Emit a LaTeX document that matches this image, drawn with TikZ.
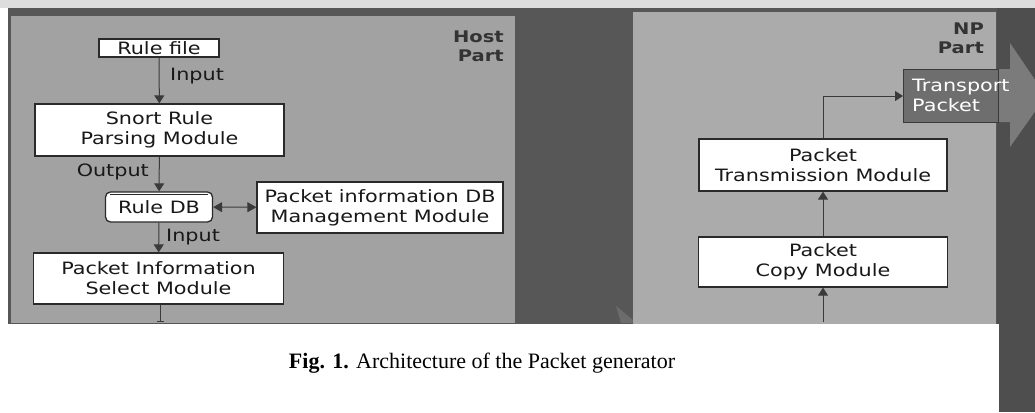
\documentclass[tikz,border=0pt]{standalone}
\usepackage{fontspec}
\setmainfont{Liberation Serif}
\newfontfamily\gul[FakeStretch=1.22]{DejaVu Sans}
\usetikzlibrary{arrows.meta}
\definecolor{topstrip}{HTML}{DDDDDD}
\definecolor{darkbg}{HTML}{575757}
\definecolor{darkright}{HTML}{4E4E4E}
\definecolor{hostpanel}{HTML}{A2A2A2}
\definecolor{nppanel}{HTML}{ABABAB}
\definecolor{boxline}{HTML}{2A2A2A}
\definecolor{conline}{HTML}{3A3A3A}
\definecolor{txt}{HTML}{181818}
\definecolor{trbox}{HTML}{6E6E6E}
\definecolor{bigarrow}{HTML}{7B7B7B}
\definecolor{faintarrow}{HTML}{6C6C6C}
\newcommand\gulf{\gul\fontsize{17}{20}\selectfont}
\newcommand\gulbf{\gul\bfseries\fontsize{16}{19}\selectfont}
\tikzset{
  box/.style={draw=boxline, fill=white, line width=1.3pt, align=center,
    font=\gulf, text=txt, inner sep=0pt},
  conn/.style={draw=conline, line width=1pt, -{Triangle[width=10pt,length=8pt]}},
  dconn/.style={draw=conline, line width=1pt,
    {Triangle[width=10pt,length=9pt]}-{Triangle[width=10pt,length=9pt]}},
  lbl/.style={font=\gulf, text=txt, inner sep=0pt},
  part/.style={font=\gulbf, text=black!80, inner sep=0pt, align=right}
}
\begin{document}
\begin{tikzpicture}[x=1pt,y=-1pt]
\clip (0,0) rectangle (1035,412);
\useasboundingbox (0,0) rectangle (1035,412);
% background layers
\fill[white] (0,0) rectangle (1035,412);
\fill[topstrip] (0,0) rectangle (1035,8);
\fill[darkbg] (8,8) rectangle (1035,325);
\fill[darkright] (997,8) rectangle (1035,412);
\fill[hostpanel] (11,16) rectangle (515,323);
\fill[nppanel] (633,12) rectangle (996,325);
\fill[faintarrow] (616,306) -- (633,320) -- (633,323) -- (621,323) -- cycle;
\fill[white] (0,324) rectangle (999,412);
% big output arrow
\fill[bigarrow] (903,69) -- (1010,69) -- (1010,43) -- (1046,96) -- (1010,147) -- (1010,122) -- (903,122) -- cycle;

% part labels
\node[part, anchor=north east] (host) at (504,31) {Host\\Part};
\node[part, anchor=north east] (np) at (984,23) {NP\\Part};

% host nodes
\node[box, minimum width=120, minimum height=18] (rulefile) at (159,48) {Rule file};
\node[box, minimum width=249, minimum height=52] (snort) at (159.5,130) {Snort Rule\\Parsing Module};
\node[box, rounded corners=5pt, minimum width=107, minimum height=30] (ruledb) at (159,207) {Rule DB};
\draw[boxline, line width=0.9pt] ([xshift=5pt,yshift=-3.5pt]ruledb.north west) -- ([xshift=-5pt,yshift=-3.5pt]ruledb.north east);
\node[box, minimum width=246, minimum height=51] (pidb) at (380,207.5) {Packet information DB\\Management Module};
\node[box, minimum width=250, minimum height=51] (pis) at (158.5,278.5) {Packet Information\\Select Module};
\coordinate (hostout) at (160,322);

% host connectors
\draw[conn] (rulefile) -- (snort);
\node[lbl, anchor=west] (in1) at (170,76) {Input};
\draw[conn] (snort) -- (ruledb);
\node[lbl, anchor=east] (out1) at (149,172) {Output};
\draw[dconn] (ruledb) -- (pidb);
\draw[conn] (ruledb) -- (pis);
\node[lbl, anchor=west] (in2) at (166,237) {Input};
\draw[draw=conline, line width=1pt, -{Bar[width=7pt,line width=1.5pt]}] (pis.south -| hostout) -- (hostout);

% NP nodes
\node[draw=conline, fill=trbox, line width=1pt, minimum width=95, minimum height=53, anchor=north west, inner sep=0pt] (transport) at (903,69) {};
\node[font=\gulf, text=white, align=left, anchor=west, inner sep=0pt] (trtext) at (912,95.5) {Transport\\Packet};
\node[box, minimum width=248, minimum height=52] (ptm) at (823,165) {Packet\\Transmission Module};
\node[box, minimum width=249, minimum height=50] (pcm) at (823,262) {Packet\\Copy Module};
\coordinate (npin) at (823,322);

% NP connectors
\draw[conn] (npin) -- (pcm);
\draw[conn] (pcm) -- (ptm);
\draw[conn] (ptm.north) |- (transport.west);

% caption
\node[anchor=base, font=\fontsize{22}{26}\selectfont, inner sep=0pt] (cap) at (482,368) {\textbf{Fig. 1.} Architecture of the Packet generator};
\end{tikzpicture}
\end{document}
